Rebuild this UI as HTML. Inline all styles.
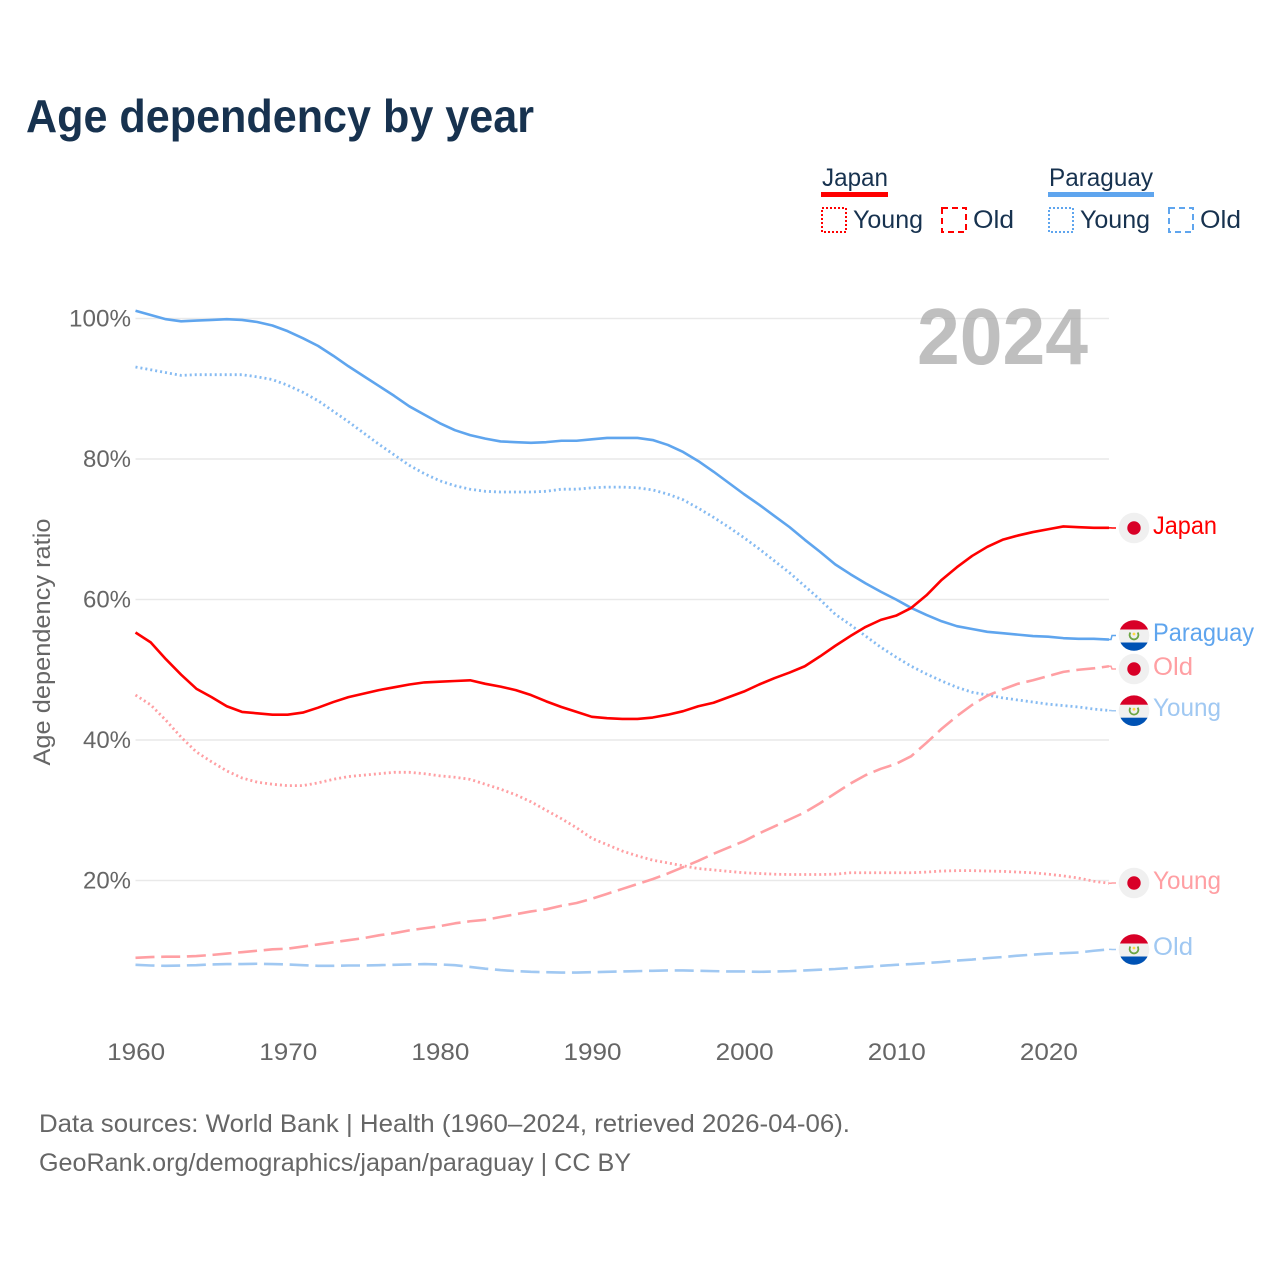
<!DOCTYPE html>
<html lang="en">
<head>
<meta charset="utf-8">
<title>Age dependency by year</title>
<style>
html,body{margin:0;padding:0;background:#fff;}
svg{display:block;}
text{font-family:"Liberation Sans",sans-serif;}
</style>
</head>
<body>
<svg id="chart" xmlns="http://www.w3.org/2000/svg" width="1280" height="1280" viewBox="0 0 1280 1280">
  <defs>
    <clipPath id="flag-clip"><circle cx="0" cy="0" r="15.3"/></clipPath>
  </defs>
  <rect x="0" y="0" width="1280" height="1280" fill="#ffffff"/>
  <text x="26" y="132" font-size="46" font-weight="700" fill="#17324f" textLength="508" lengthAdjust="spacingAndGlyphs">Age dependency by year</text>

  <g font-size="25" fill="#17324f">
    <text x="822" y="186" textLength="66" lengthAdjust="spacingAndGlyphs">Japan</text>
    <rect x="821" y="192" width="67" height="5" fill="#ff0000"/>
    <text x="1049" y="186" textLength="104" lengthAdjust="spacingAndGlyphs">Paraguay</text>
    <rect x="1048" y="192" width="106" height="5" fill="#5fa5ee"/>
    <rect x="822" y="208" width="24" height="24" fill="none" stroke="#ff0000" stroke-width="2" stroke-dasharray="2 2"/>
    <text x="853" y="228" textLength="70" lengthAdjust="spacingAndGlyphs">Young</text>
    <rect x="942" y="208" width="24" height="24" fill="none" stroke="#ff0000" stroke-width="2" stroke-dasharray="6 4"/>
    <text x="973" y="228" textLength="41" lengthAdjust="spacingAndGlyphs">Old</text>
    <rect x="1049" y="208" width="24" height="24" fill="none" stroke="#5fa5ee" stroke-width="2" stroke-dasharray="2 2"/>
    <text x="1080" y="228" textLength="70" lengthAdjust="spacingAndGlyphs">Young</text>
    <rect x="1169" y="208" width="24" height="24" fill="none" stroke="#5fa5ee" stroke-width="2" stroke-dasharray="6 4"/>
    <text x="1200" y="228" textLength="41" lengthAdjust="spacingAndGlyphs">Old</text>
  </g>

  <g id="grid"></g>
  <g id="y-ticks"></g>
  <g id="x-ticks"></g>
  <text transform="translate(50,642) rotate(-90)" text-anchor="middle" font-size="24" fill="#666666" textLength="247" lengthAdjust="spacingAndGlyphs">Age dependency ratio</text>

  <text x="1088" y="364" text-anchor="end" font-size="80" font-weight="700" fill="#a6a6a6" fill-opacity="0.72" textLength="171" lengthAdjust="spacingAndGlyphs">2024</text>

  <g id="series"></g>

  <g transform="translate(1134,528)">
    <circle r="15.3" fill="#f0f0f0"/><circle r="6.7" fill="#d80027"/>
  </g>
  <g transform="translate(1134,669)">
    <circle r="15.3" fill="#f0f0f0"/><circle r="6.7" fill="#d80027"/>
  </g>
  <g transform="translate(1134,883)">
    <circle r="15.3" fill="#f0f0f0"/><circle r="6.7" fill="#d80027"/>
  </g>
  <g transform="translate(1134,635.5)">
    <g clip-path="url(#flag-clip)">
      <rect x="-16" y="-16" width="32" height="32" fill="#f0f0f0"/>
      <rect x="-16" y="-16" width="32" height="10" fill="#d80027"/>
      <rect x="-16" y="7" width="32" height="9" fill="#0052b4"/>
    </g>
    <path d="M-3.6 -3 A4.4 4.4 0 1 0 3.6 -3" fill="none" stroke="#6da544" stroke-width="1.8"/>
    <circle cy="-1.5" r="1.4" fill="#ffda44"/>
  </g>
  <g transform="translate(1134,710.7)">
    <g clip-path="url(#flag-clip)">
      <rect x="-16" y="-16" width="32" height="32" fill="#f0f0f0"/>
      <rect x="-16" y="-16" width="32" height="10" fill="#d80027"/>
      <rect x="-16" y="7" width="32" height="9" fill="#0052b4"/>
    </g>
    <path d="M-3.6 -3 A4.4 4.4 0 1 0 3.6 -3" fill="none" stroke="#6da544" stroke-width="1.8"/>
    <circle cy="-1.5" r="1.4" fill="#ffda44"/>
  </g>
  <g transform="translate(1134,949.5)">
    <g clip-path="url(#flag-clip)">
      <rect x="-16" y="-16" width="32" height="32" fill="#f0f0f0"/>
      <rect x="-16" y="-16" width="32" height="10" fill="#d80027"/>
      <rect x="-16" y="7" width="32" height="9" fill="#0052b4"/>
    </g>
    <path d="M-3.6 -3 A4.4 4.4 0 1 0 3.6 -3" fill="none" stroke="#6da544" stroke-width="1.8"/>
    <circle cy="-1.5" r="1.4" fill="#ffda44"/>
  </g>

  <g font-size="25">
    <text x="1153" y="534" fill="#ff0000" textLength="64" lengthAdjust="spacingAndGlyphs">Japan</text>
    <text x="1153" y="641" fill="#5fa5ee" textLength="101" lengthAdjust="spacingAndGlyphs">Paraguay</text>
    <text x="1153" y="675" fill="#ff9fa3" textLength="40" lengthAdjust="spacingAndGlyphs">Old</text>
    <text x="1153" y="716" fill="#a0c8f2" textLength="68" lengthAdjust="spacingAndGlyphs">Young</text>
    <text x="1153" y="889" fill="#ff9fa3" textLength="68" lengthAdjust="spacingAndGlyphs">Young</text>
    <text x="1153" y="955" fill="#a0c8f2" textLength="40" lengthAdjust="spacingAndGlyphs">Old</text>
  </g>

  <g font-size="25" fill="#666666">
    <text x="39" y="1132" textLength="811" lengthAdjust="spacingAndGlyphs">Data sources: World Bank | Health (1960–2024, retrieved 2026-04-06).</text>
    <text x="39" y="1171" textLength="592" lengthAdjust="spacingAndGlyphs">GeoRank.org/demographics/japan/paraguay | CC BY</text>
  </g>
</svg>

<script>
const years = [1960,1961,1962,1963,1964,1965,1966,1967,1968,1969,1970,1971,1972,1973,1974,1975,1976,1977,1978,1979,1980,1981,1982,1983,1984,1985,1986,1987,1988,1989,1990,1991,1992,1993,1994,1995,1996,1997,1998,1999,2000,2001,2002,2003,2004,2005,2006,2007,2008,2009,2010,2011,2012,2013,2014,2015,2016,2017,2018,2019,2020,2021,2022,2023,2024];
const paraguayTotal = [101.1,100.5,99.9,99.6,99.7,99.8,99.9,99.8,99.5,99.0,98.2,97.2,96.1,94.7,93.2,91.8,90.4,89.0,87.5,86.3,85.1,84.1,83.4,82.9,82.5,82.4,82.3,82.4,82.6,82.6,82.8,83.0,83.0,83.0,82.7,82.0,81.0,79.7,78.2,76.6,75.0,73.5,71.9,70.3,68.5,66.8,65.0,63.6,62.3,61.1,60.0,58.8,57.8,56.9,56.2,55.8,55.4,55.2,55.0,54.8,54.7,54.5,54.4,54.4,54.3];
const paraguayYoung = [93.1,92.7,92.3,91.9,92.0,92.0,92.0,92.0,91.7,91.3,90.5,89.5,88.3,86.8,85.3,83.7,82.1,80.6,79.1,77.9,76.9,76.2,75.7,75.4,75.3,75.3,75.3,75.4,75.7,75.7,75.9,76.0,76.0,75.9,75.6,75.0,74.2,73.0,71.7,70.3,68.8,67.2,65.5,63.8,61.9,60.0,57.9,56.4,54.8,53.2,51.8,50.5,49.4,48.4,47.5,46.8,46.4,46.0,45.7,45.4,45.1,44.9,44.7,44.4,44.2];
const paraguayOld = [8.0,7.9,7.85,7.9,7.95,8.05,8.1,8.1,8.15,8.1,8.05,7.95,7.85,7.85,7.9,7.9,7.95,8.0,8.05,8.1,8.05,7.95,7.7,7.45,7.25,7.1,7.0,6.95,6.9,6.9,6.95,7.0,7.05,7.1,7.15,7.2,7.2,7.15,7.1,7.05,7.05,7.0,7.05,7.1,7.2,7.3,7.4,7.55,7.7,7.85,8.0,8.1,8.25,8.4,8.6,8.75,8.95,9.1,9.3,9.45,9.6,9.65,9.75,10.0,10.2];
const japanTotal = [55.3,53.9,51.5,49.3,47.3,46.1,44.8,44.0,43.8,43.6,43.6,43.9,44.6,45.4,46.1,46.6,47.1,47.5,47.9,48.2,48.3,48.4,48.5,48.0,47.6,47.1,46.4,45.5,44.7,44.0,43.3,43.1,43.0,43.0,43.2,43.6,44.1,44.8,45.3,46.1,46.9,47.9,48.8,49.6,50.5,51.9,53.4,54.8,56.1,57.1,57.7,58.8,60.6,62.8,64.6,66.2,67.5,68.5,69.1,69.6,70.0,70.4,70.3,70.2,70.2];
const japanYoung = [46.4,45.0,42.8,40.4,38.3,36.9,35.6,34.6,34.0,33.7,33.5,33.5,33.9,34.4,34.8,35.0,35.2,35.4,35.4,35.2,34.9,34.7,34.4,33.7,33.0,32.2,31.2,30.0,28.8,27.5,26.0,25.1,24.2,23.5,22.9,22.5,22.1,21.7,21.5,21.3,21.1,21.0,20.9,20.85,20.85,20.85,20.9,21.1,21.1,21.1,21.1,21.1,21.2,21.35,21.4,21.4,21.35,21.3,21.2,21.1,20.9,20.65,20.35,19.9,19.6];
const japanOld = [9.0,9.1,9.15,9.15,9.25,9.4,9.6,9.8,10.0,10.2,10.3,10.6,10.9,11.2,11.5,11.8,12.2,12.5,12.9,13.2,13.5,13.9,14.2,14.4,14.8,15.2,15.6,15.9,16.4,16.8,17.4,18.1,18.8,19.5,20.2,21.0,21.9,22.8,23.8,24.7,25.6,26.7,27.7,28.7,29.7,31.0,32.4,33.8,35.0,35.9,36.6,37.7,39.6,41.6,43.4,45.0,46.3,47.2,48.0,48.5,49.1,49.7,50.0,50.2,50.5];
const yTickValues = [20,40,60,80,100];
const yTickLabels = ['20%','40%','60%','80%','100%'];
const xTickValues = [1960,1970,1980,1990,2000,2010,2020];
const xTickLabels = ['1960','1970','1980','1990','2000','2010','2020'];

const NS = 'http://www.w3.org/2000/svg';
const plot = {x0:135.5, x1:1109, y0:1021, y1:318.5};
function sx(year){ return plot.x0 + (year - 1960) * (plot.x1 - plot.x0) / 64; }
function sy(v){ return plot.y0 + v * (plot.y1 - plot.y0) / 100; }
function make(tag, attrs, parent){
  const el = document.createElementNS(NS, tag);
  Object.keys(attrs).forEach(function(k){ el.setAttribute(k, attrs[k]); });
  parent.appendChild(el);
  return el;
}

const gridGroup = document.getElementById('grid');
const yGroup = document.getElementById('y-ticks');
const xGroup = document.getElementById('x-ticks');
const seriesGroup = document.getElementById('series');

yTickValues.forEach(function(v, i){
  const line = make('line', {x1:plot.x0, x2:plot.x1, y1:sy(v), y2:sy(v), stroke:'#e9e9e9', 'stroke-width':1.5}, gridGroup);
  
  
  const t = make('text', {x:131, y:sy(v) + 8, 'text-anchor':'end', 'font-size':24, fill:'#666666', textLength: v === 100 ? 62 : 48, lengthAdjust:'spacingAndGlyphs'}, yGroup);
  t.textContent = yTickLabels[i];
  
  
});

xTickValues.forEach(function(v, i){
  const t = make('text', {x:sx(v) + 0.7, y:1060, 'text-anchor':'middle', 'font-size':24, fill:'#666666', textLength:58, lengthAdjust:'spacingAndGlyphs'}, xGroup);
  t.textContent = xTickLabels[i];
  
  
});

const seriesList = [
  {name:'paraguay-old', values:paraguayOld, color:'#a0c8f2', dash:'19 6.7', width:2.6, flagY:949.5},
  {name:'paraguay-young', values:paraguayYoung, color:'#86bbf2', dash:'2 3', width:2.8, flagY:710.7, endColor:'#a0c8f2'},
  {name:'paraguay-total', values:paraguayTotal, color:'#5fa5ee', dash:'', width:2.6, flagY:635.5},
  {name:'japan-old', values:japanOld, color:'#ff9fa3', dash:'19 6.7', width:2.6, flagY:669},
  {name:'japan-young', values:japanYoung, color:'#ff9fa3', dash:'2 3', width:2.8, flagY:883},
  {name:'japan-total', values:japanTotal, color:'#ff0000', dash:'', width:2.6, flagY:528}
];

seriesList.forEach(function(s){
  const pts = s.values.map(function(v, i){ return sx(years[i]).toFixed(2) + ',' + sy(v).toFixed(2); }).join(' ');
  const attrs = {points:pts, fill:'none', stroke:s.color, 'stroke-width':s.width, 'stroke-linejoin':'round'};
  if (s.dash) attrs['stroke-dasharray'] = s.dash;
  const line = make('polyline', attrs, seriesGroup);
  
  
  const ex = sx(years[years.length - 1]);
  const ey = sy(s.values[s.values.length - 1]);
  const connPts = [ex + ',' + ey, (ex + 2) + ',' + ey, (ex + 3) + ',' + s.flagY, '1116,' + s.flagY].join(' ');
  const conn = make('polyline', {points:connPts, fill:'none', stroke:s.endColor || s.color, 'stroke-width':1.5}, seriesGroup);
  
  
});
</script>
</body>
</html>
